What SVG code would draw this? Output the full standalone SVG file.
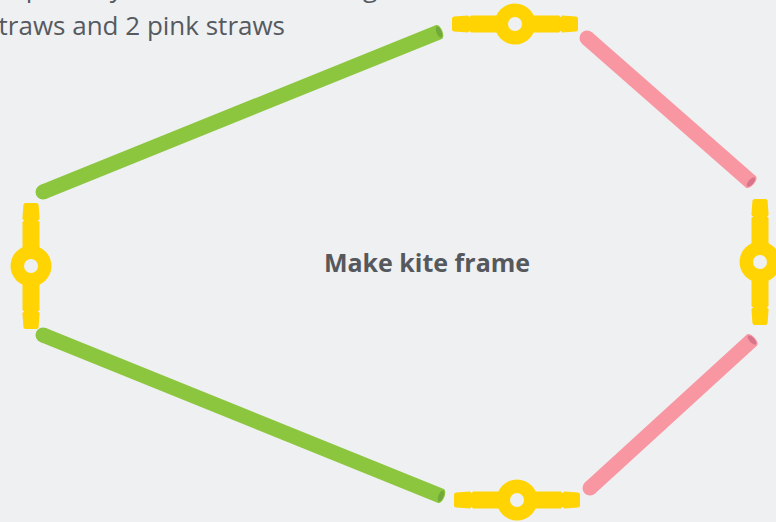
<svg xmlns="http://www.w3.org/2000/svg" xmlns:xlink="http://www.w3.org/1999/xlink" width="776" height="522" viewBox="0 0 776 522">
<style>
.bg{fill:#eff0f2}
.txt{font-family:"Open Sans","Liberation Sans",sans-serif;font-size:26px;fill:#555a5f}
.title{font-family:"Open Sans","Liberation Sans",sans-serif;font-size:25px;font-weight:bold;fill:#55585c}
.yel{fill:#ffd402}
.hole{fill:#eff0f2}
.green{stroke:#8cc63f;stroke-width:15;fill:none}
.pink{stroke:#f896a2;stroke-width:15;fill:none}
.gfill{fill:#8cc63f}
.gdark{fill:#72a93a}
.pfill{fill:#f896a2}
.pdark{fill:#d9758a}
</style>
<defs>
<g id="conn">
<path class="yel" d="M -44,-8.5 L 44,-8.5 L 45.5,-6.8 L 47,-8.6 L 61,-7.6 Q 63,-7.4 63,-5.4 L 63,5.4 Q 63,7.4 61,7.6 L 47,8.6 L 45.5,6.8 L 44,8.5 L -44,8.5 L -45.5,6.8 L -47,8.6 L -61,7.6 Q -63,7.4 -63,5.4 L -63,-5.4 Q -63,-7.4 -61,-7.6 L -47,-8.6 L -45.5,-6.8 Z"/>
<circle class="yel" r="20.5"/>
<circle class="hole" r="7"/>
</g>
</defs>
<rect class="bg" x="0" y="0" width="776" height="522"/>
<text class="txt" x="433" y="-3" text-anchor="end">Prepare 4 yellow connectors, 2 green</text>
<text class="txt" x="285" y="35" text-anchor="end">straws and 2 pink straws</text>
<g id="connectors">
<g id="straw-top-left">
<line class="green" x1="43" y1="192" x2="439" y2="32"/>
<circle class="gfill" cx="43" cy="192" r="7.5"/>
<ellipse class="gfill" rx="3.5" ry="7.5" transform="translate(439,32) rotate(-22)"/>
<ellipse class="gdark" rx="2.5" ry="5.8" transform="translate(439,32) rotate(-22)"/>
</g>
<g id="straw-bottom-left">
<line class="green" x1="43" y1="335" x2="441" y2="496"/>
<circle class="gfill" cx="43" cy="335" r="7.5"/>
<ellipse class="gfill" rx="3.5" ry="7.5" transform="translate(441,496) rotate(22)"/>
<ellipse class="gdark" rx="2.5" ry="5.8" transform="translate(441,496) rotate(22)"/>
</g>
<g id="straw-top-right">
<line class="pink" x1="587" y1="38" x2="751" y2="182"/>
<circle class="pfill" cx="587" cy="38" r="7.5"/>
<ellipse class="pfill" rx="3.5" ry="7.5" transform="translate(751,182) rotate(41.3)"/>
<ellipse class="pdark" rx="2.5" ry="5.8" transform="translate(751,182) rotate(41.3)"/>
</g>
<g id="straw-bottom-right">
<line class="pink" x1="590" y1="488" x2="752" y2="340"/>
<circle class="pfill" cx="590" cy="488" r="7.5"/>
<ellipse class="pfill" rx="3.5" ry="7.5" transform="translate(752,340) rotate(-42.4)"/>
<ellipse class="pdark" rx="2.5" ry="5.8" transform="translate(752,340) rotate(-42.4)"/>
</g>
</g>
<g id="node-top" transform="translate(515,24)"><use href="#conn" xlink:href="#conn"/></g>
<g id="node-left" transform="translate(31,266) rotate(90)"><use href="#conn" xlink:href="#conn"/></g>
<g id="node-right" transform="translate(760,262) rotate(90)"><use href="#conn" xlink:href="#conn"/></g>
<g id="node-bottom" transform="translate(517,500)"><use href="#conn" xlink:href="#conn"/></g>
<g id="node-title"><text class="title" x="427" y="272" text-anchor="middle">Make kite frame</text></g>
</svg>
